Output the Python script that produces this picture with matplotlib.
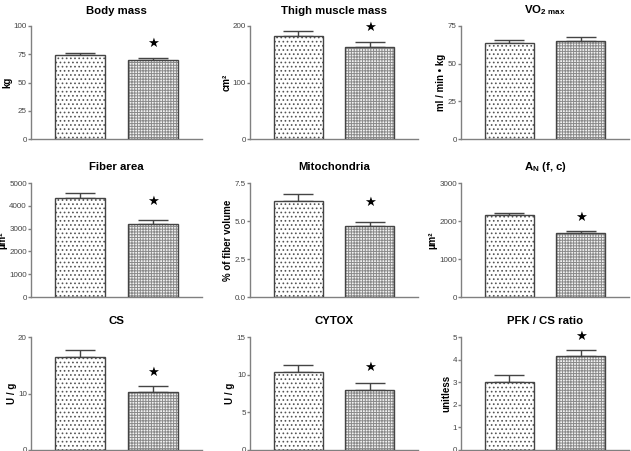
import numpy as np
import matplotlib
matplotlib.use("Agg")
import matplotlib.pyplot as plt

plt.rcParams['font.family'] = ['Liberation Sans', 'DejaVu Sans']
plt.rcParams['mathtext.fontset'] = 'custom'
plt.rcParams['mathtext.rm'] = 'Liberation Sans:bold'
plt.rcParams['mathtext.bf'] = 'Liberation Sans:bold'
plt.rcParams['hatch.linewidth'] = 0.7

# panel data
titles = ["Body mass", "Thigh muscle mass", r"VO$_{\mathrm{2\ max}}$",
          "Fiber area", "Mitochondria", r"A$_{\mathrm{N}}$ (f, c)",
          "CS", "CYTOX", "PFK / CS ratio"]
ylabels = ["kg", "cm²", "ml / min • kg",
           "µm²", "% of fiber volume", "µm²",
           "U / g", "U / g", "unitless"]
ymax = [100, 200, 75, 5000, 7.5, 3000, 20, 15, 5]
ystep = [25, 100, 25, 1000, 2.5, 1000, 10, 5, 1]
ticks_fmt = ["{:.0f}", "{:.0f}", "{:.0f}", "{:.0f}", "{:.1f}", "{:.0f}", "{:.0f}", "{:.0f}", "{:.0f}"]
means_a = [74, 183, 63.5, 4350, 6.3, 2150, 16.5, 10.35, 3.03]
means_b = [70, 163, 65.2, 3180, 4.65, 1680, 10.3, 7.95, 4.17]
err_a = [1.8, 9, 2.5, 200, 0.45, 50, 1.2, 0.9, 0.28]
err_b = [2.0, 8, 2.7, 180, 0.3, 50, 1.0, 1.0, 0.27]
star_y = [85, 198, None, 4170, 6.2, 2100, 13.8, 10.9, 5.04]

W, H = 631, 451
fig = plt.figure(figsize=(W / 100, H / 100), dpi=100)

col_x = [(31, 202), (250, 418), (461, 629)]
row_y = [(26, 139), (183, 297), (337, 450)]

grey = "#808080"
dark = "#444444"

for i in range(9):
    r, c = divmod(i, 3)
    x0, x1 = col_x[c]
    yt, yb = row_y[r]
    ax = fig.add_axes([x0 / W, (H - yb) / H, (x1 - x0) / W, (yb - yt) / H])

    pos = [0, 1]
    # hatched fills
    ax.bar(pos[0], means_a[i], width=0.68, color="white", edgecolor="#555555",
           hatch="....", linewidth=0, zorder=2)
    ax.bar(pos[1], means_b[i], width=0.68, color="#f2f2f2", edgecolor="#8a8a8a",
           hatch="++++++", linewidth=0, zorder=2)
    # outlines
    ax.bar(pos, [means_a[i], means_b[i]], width=0.68, fill=False,
           edgecolor=dark, linewidth=1.0, zorder=3)
    ax.errorbar(pos, [means_a[i], means_b[i]],
                yerr=[[0, 0], [err_a[i], err_b[i]]], fmt="none",
                ecolor=dark, elinewidth=1.0, capsize=11, capthick=1.0, zorder=1)
    if star_y[i] is not None:
        ax.text(1, star_y[i], "★", ha="center", va="center", fontsize=9.5,
                family=["DejaVu Sans"], color="black")

    ax.set_xlim(-0.67, 1.67)
    ax.set_ylim(0, ymax[i])
    tk = np.arange(0, ymax[i] + ystep[i] / 2, ystep[i])
    ax.set_yticks(tk)
    ax.set_yticklabels([ticks_fmt[i].format(t) for t in tk])
    ax.set_xticks([])
    for s in ["top", "right"]:
        ax.spines[s].set_visible(False)
    for s in ["left", "bottom"]:
        ax.spines[s].set_color(grey)
        ax.spines[s].set_linewidth(1.0)
    ax.tick_params(axis="y", colors=grey, labelcolor="#444444", length=2.5,
                   width=1.0, labelsize=5.8, pad=0.5)
    ax.set_ylabel(ylabels[i], fontsize=7, fontweight="bold", labelpad=1)
    ax.set_title(titles[i], fontsize=8.2, fontweight="bold", pad=9)

fig.savefig("out.png", dpi=100)
